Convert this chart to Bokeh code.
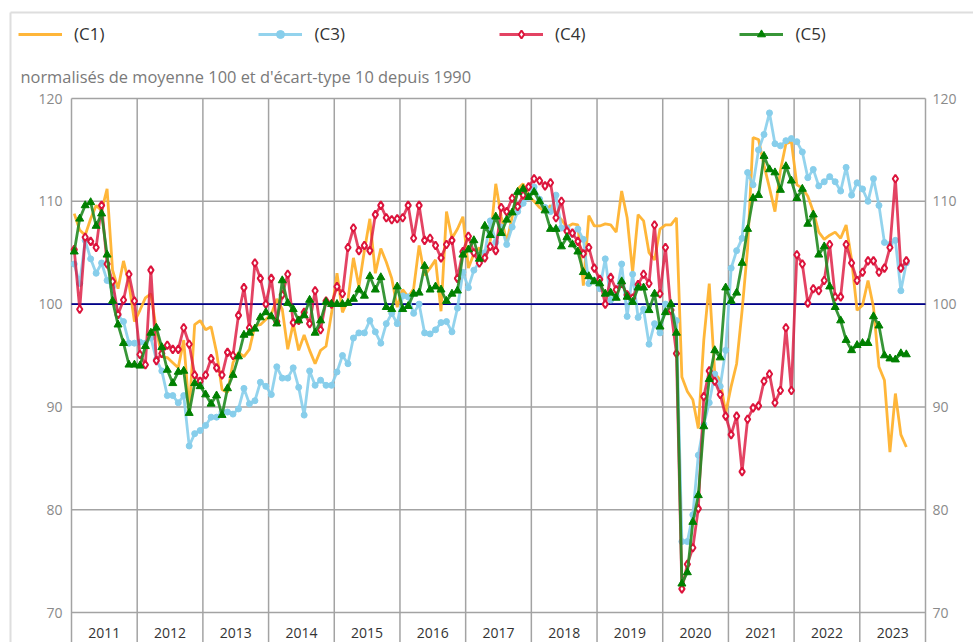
from bokeh.plotting import figure
from bokeh.models import Range1d, Legend, LegendItem, Label
from bokeh.core.properties import value
from bokeh.embed import file_html
from bokeh.resources import INLINE

start_year = 2011
years = list(range(2011, 2024))
year_labels = [str(y) for y in years]
y_ticks = [70, 80, 90, 100, 110, 120]
ref_level = 100

c1 = [108.8, 107.2, 106.7, 108.3, 109.6, 109.1, 111.2, 103.3, 101.5, 104.2, 102.0, 98.3,
      99.4, 100.6, 101.0, 97.5, 94.9, 94.8, 94.3, 93.8, 96.5, 89.5, 98.0, 98.4,
      97.5, 97.8, 95.3, 91.7, 91.4, 94.3, 95.3, 94.9, 95.6, 97.9, 98.0, 98.5,
      99.0, 100.5, 99.5, 95.6, 98.1, 95.5, 97.0, 95.5, 94.2, 95.5, 95.9, 99.1,
      103.0, 99.2, 100.4, 104.5, 101.7, 105.2, 108.3, 103.0, 105.4, 104.1, 102.5, 99.7,
      101.4, 100.7, 101.5, 105.7, 102.8, 103.5, 104.3, 99.3, 109.0, 106.4, 107.3, 108.5,
      103.5, 104.9, 105.5, 104.2, 106.2, 111.7, 108.5, 106.0, 108.5, 111.2, 111.7, 110.5,
      110.0, 109.4, 109.0, 109.6, 108.8, 108.2, 107.5, 107.8, 107.7, 101.8, 108.6, 107.6,
      107.6, 107.8, 107.7, 107.0, 111.0, 108.4, 103.1, 108.7, 108.1, 105.0, 104.3, 107.3,
      107.7, 107.7, 108.4, 92.9, 91.5, 90.7, 87.9, 96.5, 102.0, 93.3, 92.6, 89.4,
      92.0, 94.2, 99.4, 105.4, 116.2, 116.0, 113.5, 111.3, 109.0, 113.0, 115.6, 115.8,
      111.6, 111.3, 110.5, 109.0, 107.0, 106.3, 106.7, 107.0, 106.4, 107.7, 104.3, 99.4,
      99.9, 102.3, 99.7, 93.9, 92.6, 85.6, 91.3, 87.3, 86.1]

c3 = [103.9, 102.0, 106.2, 104.4, 103.0, 104.0, 102.3, 101.7, 98.9, 98.3, 96.2, 96.2,
      96.3, 96.2, 96.7, 94.6, 93.5, 91.1, 91.1, 90.4, 91.1, 86.2, 87.4, 87.7,
      88.2, 89.0, 89.0, 89.5, 89.5, 89.3, 89.8, 91.8, 90.3, 90.6, 92.4, 92.0,
      91.2, 93.9, 92.8, 92.8, 93.8, 91.9, 89.2, 93.5, 92.1, 92.6, 92.1, 92.1,
      93.4, 95.0, 94.2, 96.7, 97.2, 97.2, 98.4, 97.3, 96.2, 98.1, 99.1, 98.1,
      100.8, 100.7, 99.1, 100.0, 97.2, 97.1, 97.5, 98.2, 98.3, 97.3, 99.6, 103.1,
      101.6, 103.3, 104.1, 105.0, 108.1, 106.0, 107.5, 105.8, 107.5, 109.0, 109.8, 110.4,
      111.4, 110.2, 109.4, 109.0, 110.6, 107.4, 107.4, 106.8, 107.3, 106.3, 102.0, 102.3,
      101.5, 104.4, 100.4, 100.8, 103.9, 98.8, 102.9, 98.7, 99.5, 96.1, 98.1, 97.2,
      100.0, 99.5, 98.4, 76.9, 76.9, 79.5, 85.3, 88.3, 90.4, 93.2, 92.0, 95.5,
      103.5, 105.2, 106.4, 112.8, 111.6, 115.0, 116.5, 118.6, 115.6, 115.4, 115.9, 116.1,
      115.8, 114.8, 112.3, 113.1, 111.5, 111.9, 112.4, 111.9, 111.0, 113.3, 110.6, 111.8,
      111.2, 110.0, 112.2, 109.6, 106.0, 105.8, 106.2, 101.3, 104.0]

c4 = [105.3, 99.5, 106.5, 106.1, 105.5, 109.6, 103.9, 102.2, 99.0, 100.4, 102.9, 100.3,
      95.1, 94.1, 103.3, 94.5, 95.2, 96.0, 95.6, 95.6, 97.7, 96.1, 93.1, 92.5,
      93.1, 94.7, 93.8, 93.1, 95.3, 95.0, 98.9, 101.6, 97.7, 104.0, 102.5, 100.0,
      102.5, 98.3, 100.9, 102.9, 98.2, 98.4, 99.2, 98.1, 101.3, 97.5, 100.3, 100.0,
      101.7, 101.0, 105.5, 107.4, 105.2, 105.7, 105.2, 108.7, 109.6, 108.4, 108.2, 108.3,
      108.4, 109.6, 106.4, 109.6, 106.2, 106.4, 105.7, 104.5, 105.8, 106.2, 102.5, 105.1,
      106.6, 105.0, 104.0, 104.5, 105.6, 105.2, 109.4, 109.0, 110.3, 109.5, 110.6, 111.4,
      112.2, 112.0, 111.5, 111.8, 108.4, 110.0, 107.1, 106.9, 106.1, 104.9, 105.5, 103.5,
      102.4, 100.0, 102.6, 101.4, 102.0, 100.9, 100.6, 101.9, 102.9, 102.0, 107.7, 101.0,
      105.5, 99.4, 95.2, 72.3, 74.7, 76.3, 80.1, 91.0, 93.5, 92.5, 91.2, 89.1,
      87.3, 89.1, 83.7, 88.8, 89.9, 90.1, 92.5, 93.2, 90.4, 91.6, 97.7, 91.6,
      104.8, 103.9, 100.1, 101.5, 101.3, 102.3, 105.8, 100.7, 100.7, 105.8, 104.0, 102.3,
      103.1, 104.2, 104.2, 103.1, 103.5, 105.5, 112.2, 103.5, 104.2]

c5 = [105.1, 108.3, 109.6, 109.9, 107.6, 108.8, 104.8, 100.3, 98.0, 96.2, 94.1, 94.1,
      94.0, 95.9, 97.2, 97.7, 95.8, 93.6, 92.3, 93.4, 93.5, 89.4, 92.3, 92.0,
      91.2, 90.3, 91.1, 89.2, 91.8, 93.1, 94.9, 97.0, 97.2, 97.6, 98.7, 99.2,
      98.8, 98.1, 102.3, 100.1, 99.5, 98.4, 98.9, 100.4, 97.2, 98.4, 100.2, 100.0,
      100.0, 100.0, 100.1, 100.5, 101.4, 100.8, 102.7, 101.4, 102.6, 99.7, 99.5, 101.7,
      99.5, 99.8, 101.0, 101.1, 103.7, 101.4, 101.7, 101.4, 100.3, 101.0, 101.3, 104.8,
      105.3, 106.2, 104.4, 107.6, 106.7, 108.5, 106.9, 108.2, 108.9, 110.9, 111.2, 110.4,
      110.9, 110.0, 109.1, 107.3, 107.3, 105.6, 106.5, 105.8, 105.1, 103.1, 102.7, 102.2,
      102.0, 101.0, 101.1, 100.6, 102.2, 100.7, 100.2, 101.6, 101.6, 99.4, 101.0, 97.8,
      99.2, 100.0, 97.2, 72.8, 73.9, 78.8, 81.4, 88.1, 92.7, 95.5, 94.8, 101.6,
      100.3, 101.1, 104.0, 107.3, 110.3, 110.6, 114.4, 113.1, 112.8, 111.1, 113.4, 112.0,
      110.3, 111.2, 107.8, 108.7, 104.8, 105.6, 101.7, 99.7, 98.4, 96.5, 95.5, 96.0,
      96.2, 96.2, 98.8, 97.9, 95.0, 94.7, 94.6, 95.2, 95.1]

months = [start_year + (i + 0.5) / 12 for i in range(len(c1))]

# ---- layout (pixels) ----
W, H = 973, 642
PL, PR, PT, PB = 71, 925, 98, 612          # plot area in canvas pixels
x_lo, x_hi = years[0], years[-1] + 1
y_lo, y_hi = y_ticks[0], y_ticks[-1]
sx = (PR - PL) / (x_hi - x_lo)
sy = (PB - PT) / (y_hi - y_lo)

def dx(px):
    return x_lo + (px - PL) / sx

def dy(py):
    return y_hi - (py - PT) / sy

FONT = "Open Sans"
GRID = "#a3a3a3"

p = figure(width=W, height=H, x_range=Range1d(dx(0), dx(W)), y_range=Range1d(dy(H), dy(0)),
           output_backend="svg", toolbar_location=None, x_axis_type=None, y_axis_type=None,
           min_border=0)
p.outline_line_color = None
p.background_fill_color = "white"
p.border_fill_color = "white"

# container border (light grey box of the original figure)
p.segment(x0=[dx(10)], y0=[dy(12)], x1=[dx(W)], y1=[dy(12)], line_color="#dedede", line_width=2)
p.segment(x0=[dx(10)], y0=[dy(12)], x1=[dx(10)], y1=[dy(H)], line_color="#dedede", line_width=2)

# horizontal grid
p.segment(x0=[x_lo] * len(y_ticks), x1=[x_hi] * len(y_ticks), y0=y_ticks, y1=y_ticks,
          line_color=GRID, line_width=1.5)
# year separators (extend below the axis like category ticks)
bounds = years + [x_hi]
p.segment(x0=bounds, x1=bounds, y0=[dy(H)] * len(bounds), y1=[y_hi] * len(bounds),
          line_color=GRID, line_width=1.5)
# reference line at 100
p.segment(x0=[x_lo], x1=[x_hi], y0=[ref_level], y1=[ref_level], line_color="#00008b", line_width=1.6)

# tick labels
lab = [str(t) for t in y_ticks]
p.text(x=[dx(PL - 9)] * len(y_ticks), y=y_ticks, text=lab, text_align="right", text_baseline="middle",
       text_font=value(FONT), text_font_size="14px", text_color="#8a8a8a")
p.text(x=[dx(PR + 7)] * len(y_ticks), y=y_ticks, text=lab, text_align="left", text_baseline="middle",
       text_font=value(FONT), text_font_size="14px", text_color="#8a8a8a")
p.text(x=[y + 0.5 for y in years], y=[dy(632)] * len(years), text=year_labels,
       text_align="center", text_baseline="middle",
       text_font=value(FONT), text_font_size="14px", text_color="#333333")

# series
r1 = p.line(months, c1, line_color="#ffb22e", line_width=2.8, line_alpha=0.95)
r3l = p.line(months, c3, line_color="#87ceeb", line_width=2.8, line_alpha=0.9)
r3m = p.scatter(months, c3, marker="circle", size=6, fill_color="#87ceeb", line_color="#87ceeb")
r4l = p.line(months, c4, line_color="#dc143c", line_width=2.8, line_alpha=0.8)
r4m = p.scatter(months, c4, marker="diamond", size=8, fill_color="white", line_color="#dc143c", line_width=2)
r5l = p.line(months, c5, line_color="#228b22", line_width=2.8, line_alpha=0.9)
r5m = p.scatter(months, c5, marker="triangle", size=8, fill_color="#008000", line_color="#008000")

legend = Legend(items=[LegendItem(label="(C1)", renderers=[r1]),
                       LegendItem(label="(C3)", renderers=[r3l, r3m]),
                       LegendItem(label="(C4)", renderers=[r4l, r4m]),
                       LegendItem(label="(C5)", renderers=[r5l, r5m])],
                orientation="horizontal", location=(18, H - 45),
                glyph_width=44, glyph_height=20, label_height=20, label_standoff=12, spacing=154,
                padding=0, margin=0, border_line_color=None, background_fill_alpha=0,
                label_text_font=FONT, label_text_font_size="17px", label_text_color="#333333")
p.add_layout(legend)

p.add_layout(Label(x=20, y=H - 76, x_units="screen", y_units="screen",
                   text="normalisés de moyenne 100 et d'écart-type 10 depuis 1990",
                   text_font=FONT, text_font_size="16.4px", text_color="#7a7a7a",
                   text_baseline="middle"))

open("out.html", "w").write(file_html(p, INLINE))
